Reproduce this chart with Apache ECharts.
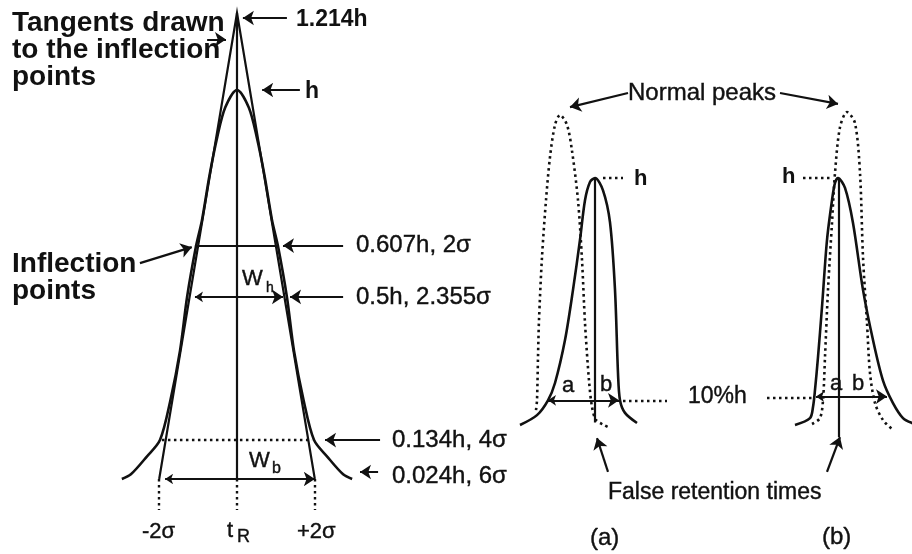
<!DOCTYPE html>
<html>
<head>
<meta charset="utf-8">
<script src="https://cdn.jsdelivr.net/npm/echarts@6/dist/echarts.min.js"></script>
<style>
html, body { margin: 0; padding: 0; background: #fff; }
#chart { width: 912px; height: 554px; }
</style>
</head>
<body>
<div id="chart"></div>
<script>
// Left peak: x in sigma from tR, y in fractions of h (as drawn)
const peakX = [-2.93, -2.7, -2.3, -1.96, -1.7, -1.45, -1.27, -1.04, -0.89, -0.7, -0.5, -0.3, 0,
               0.3, 0.5, 0.7, 0.89, 1.04, 1.27, 1.45, 1.7, 1.96, 2.3, 2.7, 2.93]
const peakY = [0, 0.012, 0.057, 0.10, 0.2, 0.33, 0.468, 0.60, 0.666, 0.78, 0.88, 0.955, 1.0,
               0.955, 0.88, 0.78, 0.666, 0.60, 0.468, 0.33, 0.2, 0.10, 0.057, 0.012, 0]
const apexY = 1.198                   // tangents meet at "1.214h"
const tangentFoot = 1.98              // tangents hit the baseline at +-2 sigma
const drawnLevels = [0.60, 0.468, 0.10, 0.018]
const levelLabels = ['0.607h, 2σ', '0.5h, 2.355σ', '0.134h, 4σ', '0.024h, 6σ']

// Right panels: x in time units, y in fractions of h
const solidAX = [2.0, 3.7, 4.8, 5.5, 6.5, 7.3, 8.0, 8.5, 9.0, 9.5, 10.3, 11.0, 11.5, 11.8, 12.0, 12.5, 13.7]
const solidAY = [0, 0.04, 0.10, 0.17, 0.344, 0.547, 0.75, 0.91, 0.984, 1.0, 0.95, 0.82, 0.547, 0.21, 0.10, 0.049, 0.008]
const normalAX = [3.6, 3.7, 3.8, 3.9, 4.2, 4.6, 5.0, 5.5, 6.0, 6.7, 7.2, 7.8, 8.2, 8.5, 8.9, 9.2, 9.6, 10.4, 11.0]
const normalAY = [0.06, 0.10, 0.275, 0.425, 0.68, 0.91, 1.085, 1.215, 1.255, 1.215, 1.11, 0.91, 0.668, 0.413, 0.18, 0.073, 0.02, 0.0, -0.012]
const solidBX = [29.5, 31.0, 31.3, 31.5, 31.8, 32.2, 32.7, 33.2, 33.5, 33.8, 34.5, 35.3, 36.3, 37.3, 38.3, 39.3, 40.3, 41.2, 42.0]
const solidBY = [0, 0.028, 0.073, 0.142, 0.275, 0.478, 0.749, 0.91, 0.98, 1.0, 0.96, 0.818, 0.547, 0.344, 0.18, 0.089, 0.028, 0.008, 0]
const normalBX = [31.2, 32.0, 32.3, 32.5, 32.8, 33.2, 33.5, 34.0, 34.7, 35.5, 36.0, 36.3, 36.7, 37.0, 37.5, 38.3, 39.3]
const normalBY = [0.004, 0.028, 0.10, 0.275, 0.547, 0.818, 1.02, 1.206, 1.267, 1.222, 1.02, 0.68, 0.413, 0.21, 0.089, 0.02, -0.02]
const falseTR = [9.5, 33.9]

const INK = '#111'
const FONT = '"Liberation Sans", Arial, Helvetica, sans-serif'
const zip = (xs, ys) => xs.map((x, i) => [x, ys[i]])

const chart = echarts.init(document.getElementById('chart'))

const curve = (data, grid, dotted) => ({
    type: 'line', xAxisIndex: grid, yAxisIndex: grid, data,
    smooth: 0.3, symbol: 'none', silent: true,
    lineStyle: dotted ? { color: INK, width: 2.6, type: [2.5, 3.5] } : { color: INK, width: 2.6 }
})
const segs = (coords, grid, opts) => Object.assign({
    type: 'lines', coordinateSystem: 'cartesian2d', xAxisIndex: grid, yAxisIndex: grid,
    symbol: 'none', symbolSize: 9, silent: true,
    lineStyle: { color: INK, width: 2.2, opacity: 1, curveness: 0 },
    data: coords.map(c => ({ coords: c }))
}, opts)
const dotted = { color: INK, width: 2.4, opacity: 1, type: [2.5, 3.5] }

const txt = (x, y, text, size, bold, extra) => ({
    type: 'text', x, y, silent: true,
    style: Object.assign({
        text, fontSize: size, fontWeight: bold ? 'bold' : 'normal', fontFamily: FONT,
        fill: INK, stroke: bold ? null : INK, lineWidth: bold ? 0 : 0.4, verticalAlign: 'middle'
    }, extra || {})
})

const [l607, l50, l134, l024] = drawnLevels

chart.setOption({
    animation: false,
    backgroundColor: '#fff',
    grid: [
        { left: 1.2, width: 471.6, top: 4.4, height: 544.6 },
        { left: 500, width: 412, top: 5.1, height: 543.4 }
    ],
    xAxis: [
        { type: 'value', gridIndex: 0, min: -6, max: 6, show: false },
        { type: 'value', gridIndex: 1, min: 0, max: 41.2, show: false }
    ],
    yAxis: [
        { type: 'value', gridIndex: 0, min: -0.18, max: 1.22, show: false },
        { type: 'value', gridIndex: 1, min: -0.5, max: 1.7, show: false }
    ],
    series: [
        // ----- left: gaussian peak -----
        curve(zip(peakX, peakY), 0, false),
        segs([[[-tangentFoot, 0], [0, apexY], [tangentFoot, 0]]], 0, { polyline: true }),
        segs([[[0, apexY], [0, 0]], [[-1.07, l607], [1.02, l607]]], 0),
        segs([[[-1.91, l134], [1.91, l134]],
              [[-tangentFoot, 0], [-tangentFoot, -0.08]],
              [[0, 0], [0, -0.08]],
              [[tangentFoot, 0], [tangentFoot, -0.08]]], 0, { lineStyle: dotted }),
        // Wh and Wb
        segs([[[-1.07, l50], [1.17, l50]], [[-1.83, 0], [1.98, 0]]], 0,
            { symbol: ['arrow', 'arrow'], symbolSize: [8, 11] }),
        // label pointers
        segs([[[1.27, 1.185], [0.15, 1.185]],
              [[1.6, 1.0], [0.64, 1.0]],
              [[2.7, l607], [1.17, l607]],
              [[2.7, l50], [1.35, l50]],
              [[3.64, l134], [2.24, l134]],
              [[3.59, l024], [3.13, l024]],
              [[-2.47, 0.555], [-1.15, 0.596]],
              [[-0.76, 1.13], [-0.28, 1.13]]], 0,
            { symbol: ['none', 'arrow'], symbolSize: [8, 11] }),

        // ----- right: distorted peaks -----
        curve(zip(normalAX, normalAY), 1, true),
        curve(zip(normalBX, normalBY), 1, true),
        curve(zip(solidAX, solidAY), 1, false),
        curve(zip(solidBX, solidBY), 1, false),
        segs([[[falseTR[0], 1], [falseTR[0], 0.01]], [[falseTR[1], 1], [falseTR[1], -0.05]]], 1),
        segs([[[12.3, 0.1], [16.7, 0.1]], [[26.7, 0.11], [31.3, 0.11]],
              [[10.3, 1], [12.3, 1]], [[30.3, 1], [33.2, 1]]], 1, { lineStyle: dotted }),
        segs([[[4.8, 0.1], [11.9, 0.1]], [[31.6, 0.115], [38.7, 0.115]]], 1,
            { symbol: ['arrow', 'arrow'], symbolSize: [8, 11] }),
        segs([[[12.8, 1.344], [7.0, 1.287]], [[28.0, 1.344], [33.8, 1.3]],
              [[10.8, -0.19], [9.7, -0.053]], [[32.7, -0.19], [34.0, -0.049]]], 1,
            { symbol: ['none', 'arrow'], symbolSize: [8, 11] })
    ],
    graphic: [
        txt(12, 10, 'Tangents drawn\nto the inflection\npoints', 28, true,
            { verticalAlign: 'top', lineHeight: 27 }),
        txt(12, 251, 'Inflection\npoints', 28, true, { verticalAlign: 'top', lineHeight: 27 }),
        txt(296, 20, '1.214h', 23, true),
        txt(305, 92, 'h', 23, true),
        txt(356, 245, levelLabels[0], 24),
        txt(356, 297, levelLabels[1], 24),
        txt(392, 440, levelLabels[2], 24),
        txt(392, 476, levelLabels[3], 24),
        txt(242, 279, 'W', 22),
        txt(266, 288, 'h', 14),
        txt(249, 461, 'W', 22),
        txt(272, 469, 'b', 16),
        txt(142, 532, '-2σ', 22),
        txt(227, 531, 't', 22),
        txt(237, 537, 'R', 18),
        txt(297, 532, '+2σ', 22),

        txt(628, 93, 'Normal peaks', 24),
        txt(634, 179, 'h', 22, true),
        txt(782, 177, 'h', 22, true),
        txt(562, 386, 'a', 22),
        txt(600, 385, 'b', 22),
        txt(830, 384, 'a', 22),
        txt(852, 384, 'b', 22),
        txt(688, 397, '10%h', 23),
        txt(608, 493, 'False retention times', 23),
        txt(590, 538, '(a)', 24),
        txt(822, 537, '(b)', 24)
    ]
})
</script>
</body>
</html>
